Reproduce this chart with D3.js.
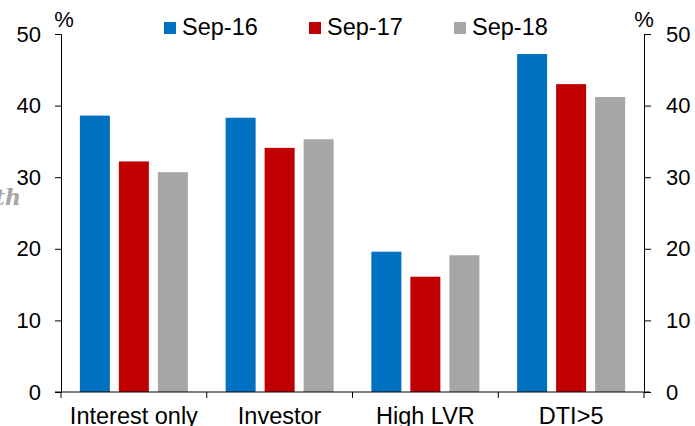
<!DOCTYPE html>
<html>
<head>
<meta charset="utf-8">
<script src="https://d3js.org/d3.v7.min.js"></script>
<style>
body { margin: 0; background: #fff; }
text { font-family: "Liberation Sans", Arial, sans-serif; fill: #000; }
</style>
</head>
<body>
<div id="chart"></div>
<script>
// data
var categories = ["Interest only", "Investor", "High LVR", "DTI>5"];
var seriesNames = ["Sep-16", "Sep-17", "Sep-18"];
var sep16 = [38.6, 38.3, 19.6, 47.2];
var sep17 = [32.2, 34.1, 16.1, 43.0];
var sep18 = [30.7, 35.3, 19.1, 41.2];
var yTicks = [0, 10, 20, 30, 40, 50];
var colors = ["#0070C0", "#C00000", "#A6A6A6"];

var seriesVals = [sep16, sep17, sep18];

var width = 695, height = 426;
var svg = d3.select("#chart").append("svg")
    .attr("width", width)
    .attr("height", height);

// scales
var x = d3.scaleBand().domain(categories).range([61, 644]).padding(0);
var y = d3.scaleLinear().domain([0, 50]).range([392, 34]);
var barW = 30, step = 39;

// bars
categories.forEach(function(c, i) {
    seriesVals.forEach(function(vals, s) {
        var cx = x(c) + x.bandwidth() / 2 + (s - 1) * step;
        svg.append("rect")
            .attr("x", cx - barW / 2)
            .attr("y", y(vals[i]))
            .attr("width", barW)
            .attr("height", y(0) - y(vals[i]))
            .attr("fill", colors[s]);
    });
});

// left axis
var left = svg.append("g").attr("transform", "translate(61,0)")
    .call(d3.axisLeft(y).tickValues(yTicks).tickSize(6).tickPadding(14));
// right axis
var right = svg.append("g").attr("transform", "translate(644,0)")
    .call(d3.axisRight(y).tickValues(yTicks).tickSize(7).tickPadding(15));
[left, right].forEach(function(a) {
    a.select(".domain").attr("stroke", "#000");
    a.selectAll("line").attr("stroke", "#000");
    a.selectAll("text").attr("font-size", "22px").attr("font-family", "Liberation Sans, Arial, sans-serif").attr("fill", "#000");
});

// bottom axis line + boundary ticks
svg.append("line")
    .attr("x1", 55).attr("x2", 650)
    .attr("y1", y(0)).attr("y2", y(0))
    .attr("stroke", "#000");
var bounds = categories.map(function(c) { return x(c); }).concat([x.range()[1]]);
svg.selectAll(".btick").data(bounds).enter().append("line")
    .attr("x1", function(d) { return d; })
    .attr("x2", function(d) { return d; })
    .attr("y1", y(0)).attr("y2", y(0) + 6)
    .attr("stroke", "#000");

svg.selectAll(".cat").data(categories).enter().append("text")
    .attr("x", function(d) { return x(d) + x.bandwidth() / 2; })
    .attr("y", 424)
    .attr("text-anchor", "middle")
    .attr("font-size", "23.5px")
    .text(function(d) { return d; });

// % units
svg.append("text").attr("x", 64).attr("y", 27).attr("text-anchor", "middle")
    .attr("font-size", "22px").text("%");
svg.append("text").attr("x", 644).attr("y", 27).attr("text-anchor", "middle")
    .attr("font-size", "22px").text("%");

// stray label fragment at left edge
svg.append("text").attr("x", 21).attr("y", 205).attr("text-anchor", "end")
    .attr("font-size", "22px")
    .attr("font-style", "italic").attr("font-weight", "bold")
    .style("font-family", "'DejaVu Serif', 'Liberation Serif', serif")
    .style("fill", "#A6A6A6")
    .text("th");

// legend
var legend = svg.selectAll(".leg").data(seriesNames).enter().append("g")
    .attr("transform", function(d, i) { return "translate(" + (164 + i * 145) + ",22)"; });
legend.append("rect").attr("width", 12).attr("height", 12)
    .attr("fill", function(d, i) { return colors[i]; });
legend.append("text").attr("x", 18).attr("y", 13)
    .attr("font-size", "23.5px")
    .text(function(d) { return d; });
</script>
</body>
</html>
